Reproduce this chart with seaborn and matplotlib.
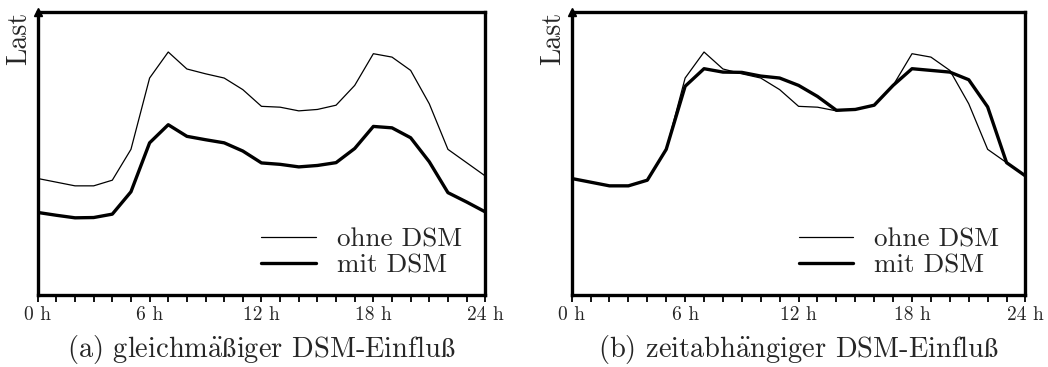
import matplotlib
matplotlib.use("Agg")
import matplotlib.pyplot as plt
import seaborn as sns
import pandas as pd

# Stunden und Lastkurven (relative Einheiten, 0..100)
hours = list(range(25))
ohne_dsm = [41.2, 39.9, 38.6, 38.6, 40.6, 51.5, 76.7, 85.9, 79.9, 78.2, 76.7, 72.6, 66.7,
            66.4, 65.1, 65.6, 67.1, 74.1, 85.3, 84.1, 79.4, 67.6, 51.5, 46.8, 42.1]
mit_dsm_a = [29.2, 28.2, 27.3, 27.4, 28.6, 36.5, 53.8, 60.2, 56.1, 54.9, 53.8, 50.9, 46.7,
             46.2, 45.3, 45.8, 46.8, 51.8, 59.6, 59.1, 55.6, 47.1, 36.2, 32.9, 29.4]
mit_dsm_b = [41.2, 39.9, 38.6, 38.6, 40.6, 51.5, 73.8, 80.0, 78.8, 78.7, 77.4, 76.7, 74.1,
             70.2, 65.3, 65.6, 67.1, 74.1, 80.0, 79.4, 78.8, 76.1, 66.5, 46.8, 42.1]
tick_hours = [0, 6, 12, 18, 24]
tick_labels = ["0 h", "6 h", "12 h", "18 h", "24 h"]
captions = [r"(a) gleichm$\ddot{\mathrm{a}}\mathrm{\ss}$iger DSM-Einflu$\mathrm{\ss}$",
            r"(b) zeitabh$\ddot{\mathrm{a}}$ngiger DSM-Einflu$\mathrm{\ss}$"]

sns.set_style("white")
plt.rcParams['font.family'] = ['cmr10', 'DejaVu Serif']
plt.rcParams['mathtext.fontset'] = 'cm'
plt.rcParams['axes.unicode_minus'] = False

fig = plt.figure(figsize=(10.48, 3.67), dpi=100)
axes = [fig.add_axes([0.036, 0.196, 0.427, 0.771]),
        fig.add_axes([0.5455, 0.196, 0.433, 0.771])]

for ax, mit, cap in zip(axes, [mit_dsm_a, mit_dsm_b], captions):
    sns.lineplot(x=hours, y=ohne_dsm, ax=ax, color="black", lw=0.9, label="ohne DSM")
    sns.lineplot(x=hours, y=mit, ax=ax, color="black", lw=2.4, label="mit DSM")
    ax.set_xlim(0, 24)
    ax.set_ylim(0, 100)
    for s in ax.spines.values():
        s.set_linewidth(2.4)
        s.set_color("black")
    ax.set_yticks([])
    ax.set_xticks(hours, minor=True)
    ax.set_xticks(tick_hours)
    ax.set_xticklabels(tick_labels, fontsize=14)
    ax.tick_params(axis="x", which="both", direction="out", length=5, width=1.3,
                   bottom=True, pad=3, color="black")
    ax.set_ylabel("Last", loc="top", fontsize=20, labelpad=4)
    ax.plot(0, 1, marker="^", color="black", markersize=6, transform=ax.transAxes,
            clip_on=False)
    ax.legend(loc="center left", bbox_to_anchor=(0.50, 0.15), frameon=False,
              fontsize=19.5, handlelength=2.0, handletextpad=0.8, labelspacing=0.05,
              borderpad=0, borderaxespad=0)
    ax.text(0.5, -0.135, cap, transform=ax.transAxes, ha="center", va="top", fontsize=20.5)

fig.savefig("out.png", dpi=100)
